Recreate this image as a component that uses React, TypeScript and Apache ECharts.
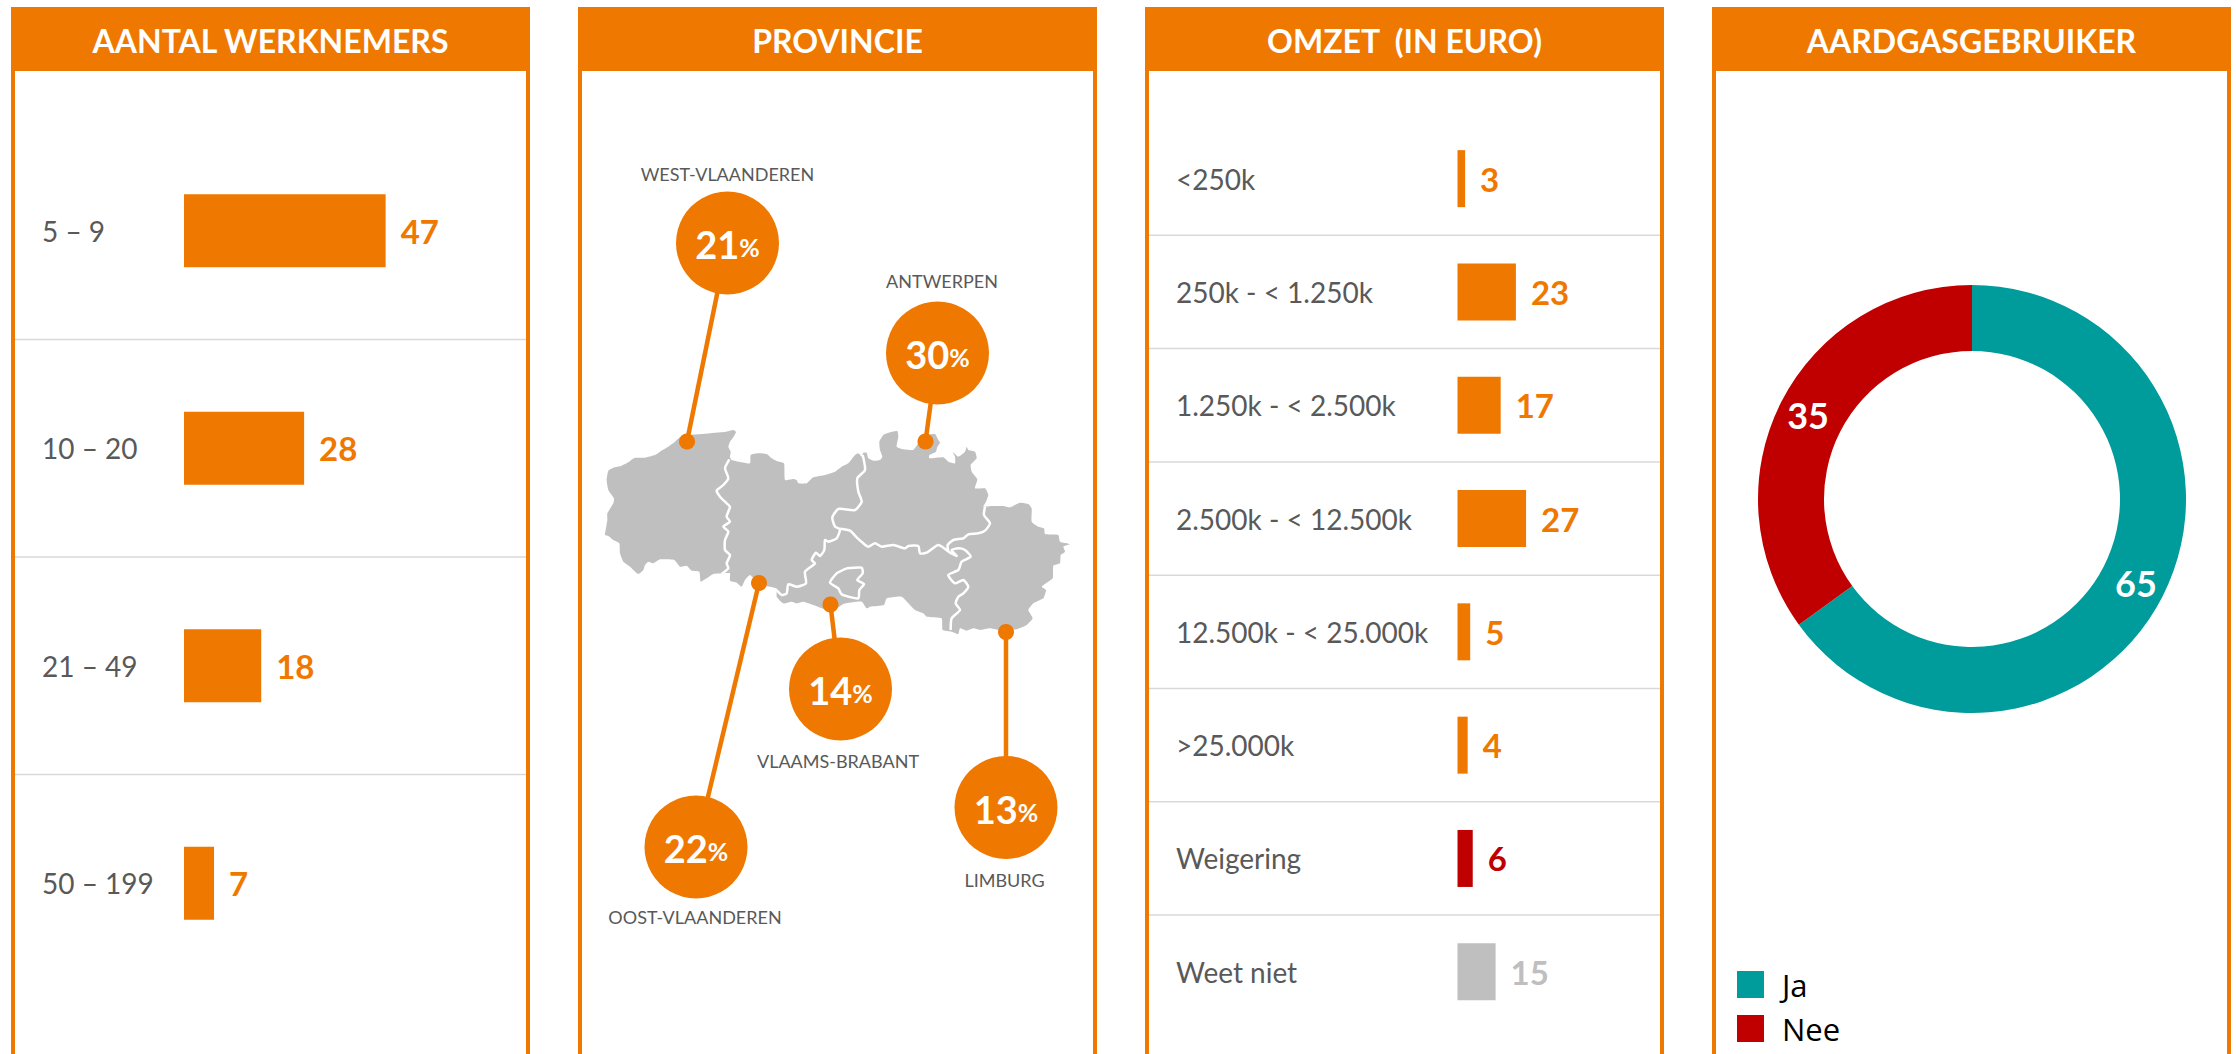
import React, { useEffect, useRef } from "react";
import * as echarts from "echarts";

const werknemersCategories = ["5 – 9", "10 – 20", "21 – 49", "50 – 199"];
const werknemersValues = [47, 28, 18, 7];
const omzetCategories = ["<250k", "250k - < 1.250k", "1.250k - < 2.500k", "2.500k - < 12.500k", "12.500k - < 25.000k", ">25.000k", "Weigering", "Weet niet"];
const omzetValues = [3, 23, 17, 27, 5, 4, 6, 15];
const provincieNames = ["WEST-VLAANDEREN", "ANTWERPEN", "OOST-VLAANDEREN", "VLAAMS-BRABANT", "LIMBURG"];
const provincieValues = [21, 30, 22, 14, 13];
const gasNames = ["Ja", "Nee"];
const gasValues = [65, 35];
const panelTitles = ["AANTAL WERKNEMERS", "PROVINCIE", "OMZET  (IN EURO)", "AARDGASGEBRUIKER"];

const ORANGE = "#EF7800";
const RED = "#C00000";
const GREY = "#BFBFBF";
const TEAL = "#009B9B";
const TEXT = "#595959";
const LINE = "#D9D9D9";
const FONT = "Lato, Carlito, sans-serif";

const panels: [number, number][] = [[11, 530], [578, 1097], [1145, 1664], [1712, 2231]];

// Province call-outs: bubble centre, map pin, label centre
const callouts = [
  { c: [727.5, 243], pin: [687, 441.5], l: [727.5, 174] },
  { c: [937.5, 353], pin: [925.5, 441.5], l: [942, 281] },
  { c: [696, 847], pin: [759, 583], l: [695, 917] },
  { c: [840.5, 689], pin: [830.5, 604.5], l: [838, 761] },
  { c: [1006, 807.5], pin: [1006, 632], l: [1004.5, 880] },
];

// Map outline, traced in crop coordinates
const outline = [
  [80,240],[85,212],[100,203],[125,197],[145,187],[163,174],[195,173],[225,165],[240,155],[262,142],[285,125],[300,112],[330,105],[365,102],[405,98],[440,95],[460,90],[468,96],[460,112],[450,125],[445,140],[452,155],[450,172],
  [455,180],[480,186],[510,190],[512,165],[535,160],[560,162],[575,175],[590,183],[612,190],[615,240],[640,237],[650,240],[655,250],[680,250],[700,232],[735,225],[765,215],[785,200],[805,190],[825,165],[835,160],[845,170],[850,158],[860,158],[865,175],[880,182],[900,180],[907,170],[900,150],[898,125],[910,105],[930,97],[952,93],[955,110],[950,140],[970,148],[1000,150],[1015,130],[1040,105],[1065,102],[1075,120],[1080,128],[1072,140],[1068,155],[1048,165],[1048,175],[1090,172],[1105,185],[1125,190],[1125,170],[1118,155],[1135,170],[1155,155],[1160,140],[1165,150],[1185,155],[1190,175],[1172,195],[1175,215],[1192,238],[1185,265],[1215,265],[1225,285],[1218,305],[1210,320],
  [1235,318],[1270,318],[1290,322],[1320,308],[1345,312],[1355,325],[1355,365],[1375,380],[1392,385],[1395,402],[1435,405],[1440,425],[1470,432],[1450,440],[1455,455],[1442,465],[1440,490],[1420,497],[1418,535],[1385,560],[1398,570],[1390,595],[1360,610],[1345,630],[1358,655],[1340,675],[1310,688],[1280,690],[1255,690],[1230,685],[1200,690],[1180,685],[1160,692],[1140,685],[1135,702],[1115,695],[1088,690],[1085,655],[1040,650],[1030,640],[1005,630],[965,590],[920,595],[912,615],[870,620],[860,625],[845,605],[790,612],[760,632],[735,628],[700,615],[670,605],[650,610],[635,605],[610,610],[590,590],[590,565],[570,560],[540,555],[510,525],[495,540],[485,560],[470,548],[450,542],[450,520],[430,520],[400,522],[380,535],[362,545],[358,515],[335,512],[320,497],[300,500],[283,480],[240,478],[220,490],[205,485],[195,495],[190,510],[175,522],[150,500],[130,485],[120,460],[118,430],[100,420],[85,408],[75,405],[78,385],[82,360],[82,340],[100,310],[102,295],[85,270],
];
const borders = [
  [[448,178],[435,205],[445,235],[430,255],[410,272],[420,290],[440,310],[450,320],[440,350],[450,365],[430,380],[445,395],[435,420],[435,450],[450,465],[440,490],[445,505],[425,522]],
  [[848,165],[855,210],[832,235],[835,275],[845,305],[825,330],[775,327],[757,352],[765,380],[780,388],[770,415],[745,425],[735,420],[733,450],[720,468],[708,458],[695,480],[705,490],[675,515],[678,550],[650,560],[625,553],[620,580],[605,585],[590,570]],
  [[780,386],[810,392],[830,412],[850,430],[865,440],[885,430],[905,440],[940,435],[975,445],[985,438],[1015,438],[1020,460],[1040,458],[1075,435],[1105,455]],
  [[1105,455],[1103,435],[1120,420],[1150,415],[1165,403],[1195,400],[1215,392],[1230,370],[1212,345],[1215,320]],
  [[1105,455],[1130,468],[1115,450],[1135,445],[1155,450],[1172,470],[1145,485],[1135,510],[1105,525],[1125,550],[1150,540],[1165,560],[1150,580],[1135,590],[1127,610],[1140,630],[1115,655],[1112,690]],
  [[800,505],[845,503],[848,520],[832,540],[852,552],[838,570],[835,595],[785,583],[775,565],[750,548],[770,520],[800,505]],
];
const toPage = (p: number[]) => [580 + p[0] / 3, 400 + p[1] / 3];

function buildGraphic() {
  const els: any[] = [];
  panels.forEach(([a, b], i) => {
    els.push({ type: "rect", silent: true, shape: { x: a, y: 7, width: 4, height: 1047 }, style: { fill: ORANGE } });
    els.push({ type: "rect", silent: true, shape: { x: b - 4, y: 7, width: 4, height: 1047 }, style: { fill: ORANGE } });
    els.push({ type: "rect", silent: true, shape: { x: a, y: 7, width: b - a, height: 64 }, style: { fill: ORANGE } });
    els.push({ type: "text", silent: true, style: { x: (a + b) / 2, y: 40, text: panelTitles[i], fill: "#fff", font: `bold 32px ${FONT}`, align: "center", verticalAlign: "middle" } });
  });
  const sep = (panel: number, y: number) => els.push({ type: "line", silent: true, shape: { x1: panels[panel][0] + 4, y1: y, x2: panels[panel][1] - 4, y2: y }, style: { stroke: LINE, lineWidth: 1.5 } });
  werknemersCategories.slice(1).forEach((_, i) => sep(0, 122 + (i + 1) * 217.5));
  omzetCategories.slice(1).forEach((_, i) => sep(2, 122 + (i + 1) * 113.3));

  els.push({ type: "polygon", silent: true, shape: { points: outline.map(toPage), smooth: 0.15 }, style: { fill: GREY } });
  borders.forEach((b) => els.push({ type: "polyline", silent: true, shape: { points: b.map(toPage), smooth: 0.2 }, style: { stroke: "#fff", lineWidth: 2.5, fill: "none", lineJoin: "round" } }));

  callouts.forEach((k, i) => {
    els.push({ type: "line", silent: true, shape: { x1: k.c[0], y1: k.c[1], x2: k.pin[0], y2: k.pin[1] }, style: { stroke: ORANGE, lineWidth: 4.5 } });
    els.push({ type: "circle", silent: true, shape: { cx: k.pin[0], cy: k.pin[1], r: 8 }, style: { fill: ORANGE } });
    els.push({ type: "circle", silent: true, shape: { cx: k.c[0], cy: k.c[1], r: 51.5 }, style: { fill: ORANGE } });
    els.push({ type: "text", silent: true, style: { x: k.c[0], y: k.c[1] + 1, text: `{a|${provincieValues[i]}}{b|%}`, align: "center", verticalAlign: "middle", rich: { a: { fill: "#fff", font: `bold 38px ${FONT}` }, b: { fill: "#fff", font: `bold 25px ${FONT}`, padding: [6, 0, 0, 0] } } } });
    els.push({ type: "text", silent: true, style: { x: k.l[0], y: k.l[1], text: provincieNames[i], fill: TEXT, font: `18px ${FONT}`, align: "center", verticalAlign: "middle" } });
  });
  return els;
}

const barLabel = (color: string) => ({ show: true, position: "right", distance: 15, color, fontFamily: FONT, fontWeight: "bold", fontSize: 33 });

const omzetColour = (name: string) => (name === "Weigering" ? RED : name === "Weet niet" ? GREY : ORANGE);

export default function App() {
  const ref = useRef<HTMLDivElement>(null);
  useEffect(() => {
    const chart = echarts.init(ref.current!, undefined, { renderer: "svg" });
    chart.setOption({
      animation: false,
      backgroundColor: "#fff",
      graphic: { elements: buildGraphic() },
      grid: [
        { left: 184, top: 122, width: 300, height: 870 },
        { left: 1457.5, top: 122, width: 200, height: 906.4 },
      ],
      xAxis: [
        { gridIndex: 0, type: "value", min: 0, max: 300 / 4.29, show: false },
        { gridIndex: 1, type: "value", min: 0, max: 200 / 2.54, show: false },
      ],
      yAxis: [
        { gridIndex: 0, type: "category", inverse: true, data: werknemersCategories, axisLine: { show: false }, axisTick: { show: false }, axisLabel: { align: "left", margin: 142, color: TEXT, fontFamily: FONT, fontSize: 28, padding: [3, 0, 0, 0] } },
        { gridIndex: 1, type: "category", inverse: true, data: omzetCategories, axisLine: { show: false }, axisTick: { show: false }, axisLabel: { align: "left", margin: 281.5, color: TEXT, fontFamily: FONT, fontSize: 28, padding: [5, 0, 0, 0] } },
      ],
      legend: {
        orient: "vertical",
        left: 1737,
        top: 969,
        padding: 0,
        itemWidth: 27,
        itemHeight: 27,
        itemGap: 13,
        icon: "rect",
        data: gasNames,
        textStyle: { color: "#000", fontFamily: "'Open Sans'", fontSize: 31, lineHeight: 22, padding: [0, 0, 0, 13] },
      },
      series: [
        {
          type: "bar", xAxisIndex: 0, yAxisIndex: 0, barWidth: 73, silent: true,
          data: werknemersValues.map((value) => ({ value, itemStyle: { color: ORANGE } })),
          label: barLabel(ORANGE),
        },
        {
          type: "bar", xAxisIndex: 1, yAxisIndex: 1, barWidth: 57, silent: true,
          data: omzetValues.map((value, i) => {
            const color = omzetColour(omzetCategories[i]);
            return { value, itemStyle: { color }, label: { color } };
          }),
          label: barLabel(ORANGE),
        },
        {
          type: "pie", center: [1972, 499], radius: [148, 214], startAngle: 90, silent: true,
          color: [TEAL, RED],
          data: gasNames.map((name, i) => ({ name, value: gasValues[i] })),
          label: { show: true, position: "inside", formatter: "{c}", color: "#fff", fontFamily: FONT, fontWeight: "bold", fontSize: 36 },
          labelLine: { show: false },
        },
      ],
    });
    return () => chart.dispose();
  }, []);
  return <div ref={ref} style={{ position: "fixed", left: 0, top: 0, width: 2236, height: 1054 }} />;
}
